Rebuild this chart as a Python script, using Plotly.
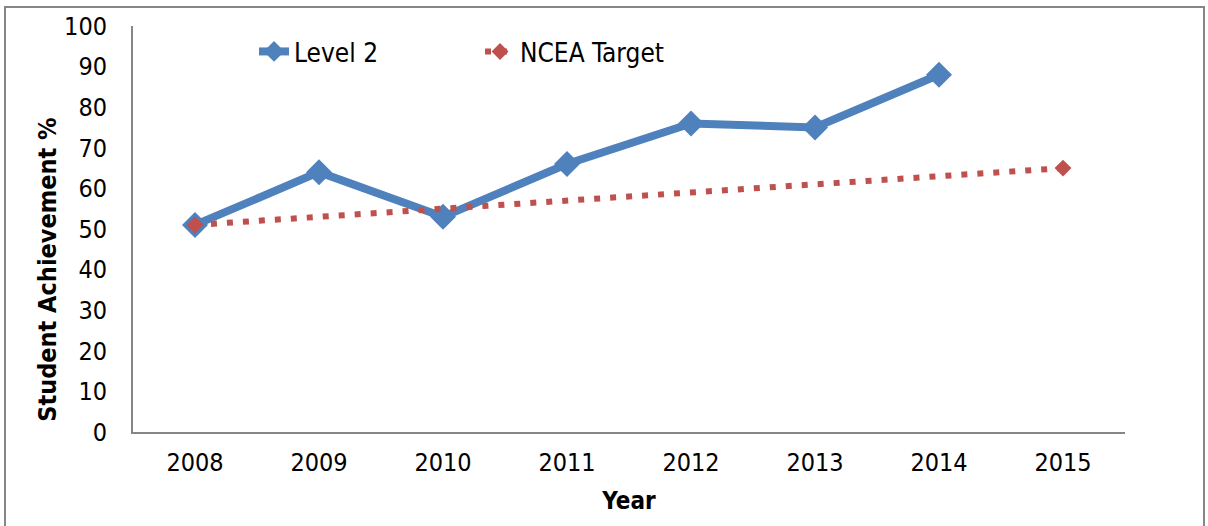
import plotly.graph_objects as go

# data
years = ['2008', '2009', '2010', '2011', '2012', '2013', '2014', '2015']
level2 = [51, 64, 53, 66, 76, 75, 88, None]
ncea_target = [51, None, None, None, None, None, None, 65]

font_name = "DejaVu Sans Condensed, DejaVu Sans, sans-serif"

fig = go.Figure()

fig.add_trace(go.Scatter(
    x=years, y=level2, name='Level 2', mode='lines+markers',
    line=dict(color='#4F81BD', width=8),
    marker=dict(symbol='diamond', size=20, color='#4F81BD'),
))

fig.add_trace(go.Scatter(
    x=years, y=ncea_target, name='NCEA Target', mode='lines+markers',
    connectgaps=True,
    line=dict(color='#C0504D', width=6, dash='6px,10px'),
    marker=dict(symbol='diamond', size=13, color='#C0504D'),
))

fig.update_layout(
    width=1208, height=526,
    margin=dict(l=133, r=83, t=24, b=94),
    plot_bgcolor='white', paper_bgcolor='white',
    font=dict(family=font_name, size=25, color='black'),
    showlegend=True,
    legend=dict(orientation='h', x=0.122, y=0.995, xanchor='left', yanchor='top',
                entrywidth=181, entrywidthmode='pixels',
                font=dict(size=26), bgcolor='rgba(0,0,0,0)'),
)

fig.update_xaxes(
    type='category', range=[-0.5, 7.5],
    showline=True, linecolor='#868686', linewidth=2,
    showgrid=False, ticks='', ticklabelstandoff=7,
    title=dict(text='<b>Year</b>', standoff=16, font=dict(size=24)),
)

fig.update_yaxes(
    range=[0, 100], dtick=10,
    showline=True, linecolor='#868686', linewidth=2,
    showgrid=False, zeroline=False, ticks='', ticklabelstandoff=19,
)

# y title sits a bit below the plot centre in the original, so place it by hand
fig.add_annotation(text='<b>Student Achievement %</b>', textangle=-90,
                   xref='paper', yref='paper', x=(48 - 133) / 992, y=(432 - 269) / 408,
                   xanchor='center', yanchor='middle',
                   showarrow=False, font=dict(size=25))

# outer chart border like the Excel chart area
fig.add_shape(type='rect', xref='paper', yref='paper',
              x0=(5 - 133) / 992, x1=(1204 - 133) / 992,
              y0=(432 - 530) / 408, y1=(432 - 5) / 408,
              line=dict(color='#868686', width=2), layer='below')

fig.write_html("out.html", config={'displayModeBar': False},
               post_script="document.body.style.margin='0';")
